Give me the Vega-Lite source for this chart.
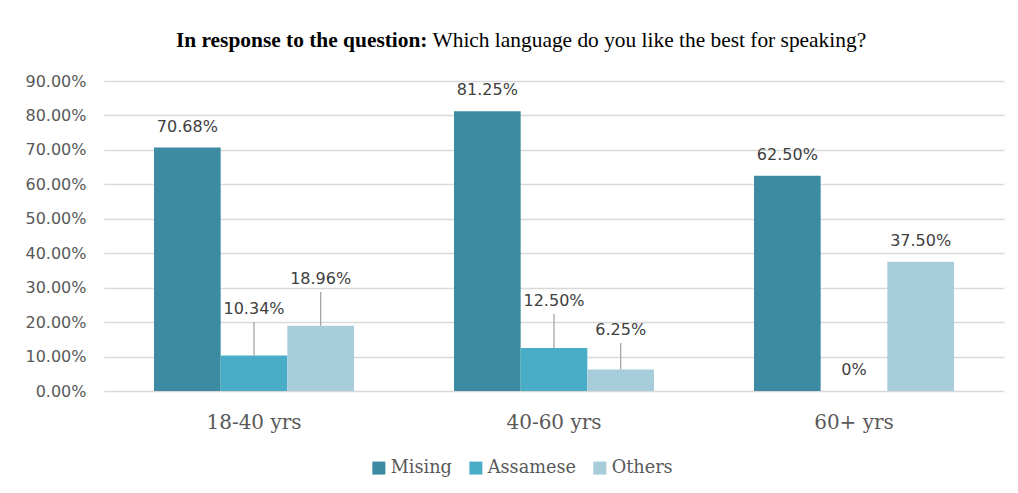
{
  "$schema": "https://vega.github.io/schema/vega-lite/v6.json",
  "width": 900,
  "height": 310,
  "autosize": {"type": "none"},
  "padding": {"left": 104, "top": 81, "right": 14, "bottom": 102},
  "background": "white",
  "config": {"view": {"stroke": null}},
  "data": {
    "values": [
      {"age": "18-40 yrs", "lang": "Mising", "value": 0.7068, "label": "70.68%", "label_at": 0.7068},
      {"age": "18-40 yrs", "lang": "Assamese", "value": 0.1034, "label": "10.34%", "label_at": 0.1771},
      {"age": "18-40 yrs", "lang": "Others", "value": 0.1896, "label": "18.96%", "label_at": 0.2642},
      {"age": "40-60 yrs", "lang": "Mising", "value": 0.8125, "label": "81.25%", "label_at": 0.8125},
      {"age": "40-60 yrs", "lang": "Assamese", "value": 0.125, "label": "12.50%", "label_at": 0.2003},
      {"age": "40-60 yrs", "lang": "Others", "value": 0.0625, "label": "6.25%", "label_at": 0.1161},
      {"age": "60+ yrs", "lang": "Mising", "value": 0.625, "label": "62.50%", "label_at": 0.625},
      {"age": "60+ yrs", "lang": "Assamese", "value": 0, "label": "0%", "label_at": 0},
      {"age": "60+ yrs", "lang": "Others", "value": 0.375, "label": "37.50%", "label_at": 0.375}
    ]
  },
  "encoding": {
    "x": {
      "field": "age",
      "type": "nominal",
      "sort": ["18-40 yrs", "40-60 yrs", "60+ yrs"],
      "scale": {"paddingInner": 0.33333, "paddingOuter": 0.166667},
      "axis": {
        "title": null,
        "domain": false,
        "ticks": false,
        "labelAngle": 0,
        "labelFont": "DejaVu Serif",
        "labelFontSize": 20,
        "labelColor": "#595959",
        "labelBaseline": "alphabetic",
        "labelPadding": 37
      }
    },
    "xOffset": {
      "field": "lang",
      "type": "nominal",
      "sort": ["Mising", "Assamese", "Others"],
      "scale": {"paddingInner": 0, "paddingOuter": 0}
    }
  },
  "layer": [
    {
      "mark": {"type": "bar"},
      "encoding": {
        "y": {
          "field": "value",
          "type": "quantitative",
          "scale": {"domain": [0, 0.9]},
          "axis": {
            "format": ".2%",
            "values": [0, 0.1, 0.2, 0.3, 0.4, 0.5, 0.6, 0.7, 0.8, 0.9],
            "grid": true,
            "gridColor": "#d9d9d9",
            "gridWidth": 1.3,
            "domain": false,
            "ticks": false,
            "labelPadding": 18,
            "labelFont": "DejaVu Sans",
            "labelFontSize": 16,
            "labelColor": "#595959",
            "title": "Which language do you like the best for speaking?",
            "titleAngle": 0,
            "titleAlign": "left",
            "titleBaseline": "alphabetic",
            "titleX": 328,
            "titleY": -34.3,
            "titleFont": "Liberation Serif",
            "titleFontSize": 21.4,
            "titleFontWeight": "normal",
            "titleColor": "black"
          }
        },
        "color": {
          "field": "lang",
          "type": "nominal",
          "scale": {"domain": ["Mising", "Assamese", "Others"], "range": ["#3c8ba3", "#4aadc7", "#a7cddb"]},
          "legend": {
            "orient": "none",
            "direction": "horizontal",
            "legendX": 266,
            "legendY": 378,
            "title": null,
            "symbolType": "square",
            "symbolSize": 169,
            "symbolStrokeWidth": 0,
            "symbolOpacity": 1,
            "labelFont": "DejaVu Serif",
            "labelFontSize": 17.7,
            "labelColor": "#595959",
            "labelOffset": 3,
            "columnPadding": 15
          }
        }
      }
    },
    {
      "transform": [{"filter": "datum.label_at > datum.value"}],
      "mark": {"type": "rule", "yOffset": -8, "color": "#a6a6a6", "strokeWidth": 1.3},
      "encoding": {
        "y": {"field": "label_at", "type": "quantitative", "scale": {"domain": [0, 0.9]}, "axis": null},
        "y2": {"field": "value"}
      }
    },
    {
      "mark": {"type": "text", "dy": -16, "baseline": "alphabetic", "font": "DejaVu Sans", "fontSize": 16, "color": "#404040"},
      "encoding": {
        "y": {
          "field": "label_at",
          "type": "quantitative",
          "scale": {"domain": [0, 0.9]},
          "axis": {
            "orient": "right",
            "grid": false,
            "domain": false,
            "ticks": false,
            "labels": false,
            "title": "In response to the question:",
            "titleAngle": 0,
            "titleAlign": "right",
            "titleBaseline": "alphabetic",
            "titleX": -577,
            "titleY": -34.3,
            "titleFont": "Liberation Serif",
            "titleFontSize": 21.4,
            "titleFontWeight": "bold",
            "titleColor": "black"
          }
        },
        "text": {"field": "label"}
      }
    }
  ],
  "resolve": {"axis": {"y": "independent"}}
}
